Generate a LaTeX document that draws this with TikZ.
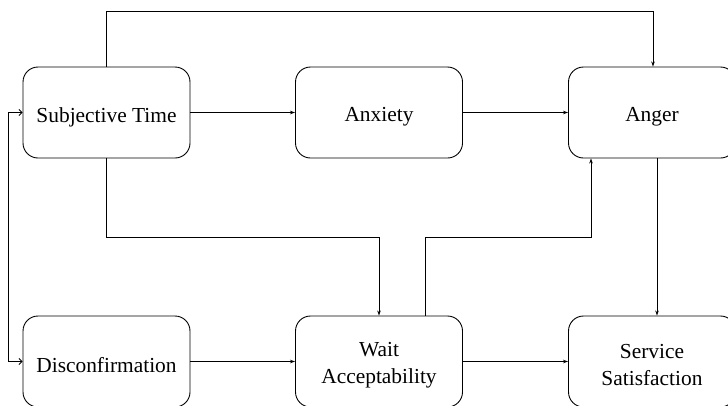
\documentclass[tikz,border=0pt]{standalone}
\usepackage{fontspec}
\setmainfont{Liberation Serif}
\usetikzlibrary{arrows.meta}
\begin{document}
\begin{tikzpicture}[x=1pt,y=-1pt,
  box/.style={draw, line width=0.9pt, rounded corners=15pt,
    minimum width=167pt, minimum height=91pt, inner sep=0pt},
  txt/.style={align=center, inner sep=0pt,
    font=\fontsize{21.4pt}{26.5pt}\selectfont},
  link/.style={line width=0.8pt, -{Stealth[length=5pt,width=3.5pt]}},
  back/.style={line width=0.8pt, {Straight Barb[length=3pt,width=6pt]}-{Straight Barb[length=3pt,width=6pt]}}]
\useasboundingbox (0,0) rectangle (728,405);

% boxes
\node[box] (st)   at (106.5,112.5) {};
\node[box] (anx)  at (379,112.5)   {};
\node[box] (ang)  at (652,112.5)   {};
\node[box] (dis)  at (106.5,361.5) {};
\node[box] (wait) at (379,361.5)   {};
\node[box] (sat)  at (652,361.5)   {};

% box texts
\node[txt] (stt)   at ([yshift=-4.5pt]st.center)   {Subjective Time};
\node[txt] (anxt)  at ([yshift=-4.5pt]anx.center)  {Anxiety};
\node[txt] (angt)  at ([yshift=-4.5pt]ang.center)  {Anger};
\node[txt] (dist)  at ([yshift=-3.5pt]dis.center)  {Disconfirmation};
\node[txt] (waitt) at ([yshift=-3.5pt]wait.center) {Wait\\Acceptability};
\node[txt] (satt)  at ([yshift=-3.5pt]sat.center)  {Service\\Satisfaction};

% horizontal links
\draw[link] (st) -- (anx);
\draw[link] (anx) -- (ang);
\draw[link] (dis) -- (wait);
\draw[link] (wait) -- (sat);

% routed links
\coordinate (topy) at (0,11);
\coordinate (midy) at (0,237);
\draw[link] (st.north) -- (st.north |- topy) -| ([xshift=1pt]ang.north);
\draw[link] (st.south) -- (st.south |- midy) -| (wait.north);
\draw[link] ([xshift=46pt]wait.north) -- ([xshift=46pt]wait.north |- midy) -| ([xshift=-61pt]ang.south);
\draw[link] ([xshift=5pt]ang.south) -- ([xshift=5pt]sat.north);

% feedback between subjective time and disconfirmation
\coordinate (fb) at (8,0);
\draw[back] (st.west) -- (st.west -| fb) -- (dis.west -| fb) -- (dis.west);
\end{tikzpicture}
\end{document}
